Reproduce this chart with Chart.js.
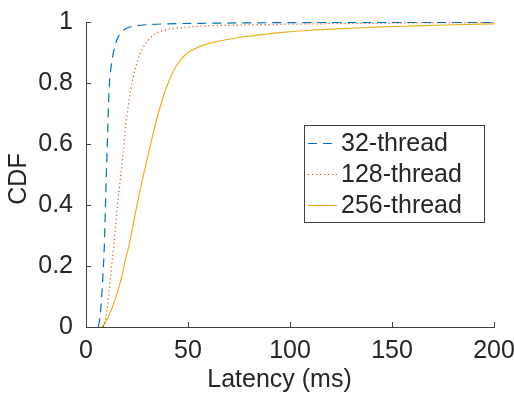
<!DOCTYPE html>
<html>
<head>
<meta charset="utf-8">
<script src="https://cdn.jsdelivr.net/npm/chart.js@4/dist/chart.umd.min.js"></script>
<style>
  html, body { margin: 0; padding: 0; background: #fff; }
  #wrap { width: 514px; height: 395px; position: relative; }
</style>
</head>
<body>
<div id="wrap"><canvas id="cdfChart"></canvas></div>
<script>
// values
const seriesNames = ['32-thread', '128-thread', '256-thread'];

const latency32 = [6.0, 6.5, 7.1, 7.7, 8.3, 9.0, 9.5, 10.1, 10.7, 11.3, 11.9, 12.6, 13.4, 14.5, 15.8, 17.5, 20.7, 25, 29, 40, 60, 100, 150, 200];
const cdf32 = [0, 0.015, 0.05, 0.1, 0.17, 0.268, 0.39, 0.525, 0.655, 0.776, 0.83, 0.868, 0.898, 0.93, 0.951, 0.968, 0.982, 0.988, 0.991, 0.994, 0.996, 0.998, 0.999, 0.999];

const latency128 = [8.5, 9.3, 10.2, 11.2, 12.4, 13.6, 14.6, 16.2, 18.0, 19.6, 21.9, 23.2, 24.5, 26.5, 28.5, 31.4, 34, 37.9, 42, 47.7, 55, 62.4, 75.5, 100, 130, 160, 200];
const cdf128 = [0, 0.015, 0.05, 0.11, 0.19, 0.268, 0.339, 0.448, 0.557, 0.667, 0.776, 0.82, 0.855, 0.896, 0.922, 0.947, 0.962, 0.972, 0.978, 0.982, 0.986, 0.988, 0.990, 0.993, 0.995, 0.997, 0.998];

const latency256 = [7.7, 9, 10.9, 12.5, 14.2, 15.8, 17.5, 19.3, 21.1, 23.2, 26.5, 30.2, 34.1, 36.2, 38.7, 41.2, 43.5, 46.1, 48.5, 51, 54.5, 58, 62.4, 68, 75.5, 85, 95, 110, 128, 145, 160, 180, 200];
const cdf256 = [0, 0.01, 0.033, 0.058, 0.088, 0.124, 0.164, 0.22, 0.268, 0.339, 0.448, 0.557, 0.667, 0.718, 0.772, 0.815, 0.847, 0.874, 0.891, 0.904, 0.916, 0.925, 0.933, 0.941, 0.95, 0.958, 0.965, 0.973, 0.979, 0.984, 0.987, 0.991, 0.994];

const xTicks = [0, 50, 100, 150, 200];
const yTicks = [0, 0.2, 0.4, 0.6, 0.8, 1];
const xTitle = 'Latency (ms)';
const yTitle = 'CDF';

const FONT = 'Liberation Sans, Arial, Helvetica, sans-serif';
const FSIZE = 25;
const TEXT = '#262626';
const AXIS = '#404040';

function toPoints(xs, ys) {
    return xs.map((x, i) => ({ x: x, y: ys[i] }));
}

// inward tick marks, MATLAB style
const innerTicks = {
    id: 'innerTicks',
    afterDraw(chart) {
        const ctx = chart.ctx;
        const x = chart.scales.x, y = chart.scales.y;
        const len = 5;
        ctx.save();
        ctx.strokeStyle = AXIS;
        ctx.lineWidth = 1;
        ctx.beginPath();
        xTicks.forEach(v => {
            const px = Math.round(x.getPixelForValue(v)) + 0.5;
            ctx.moveTo(px, y.bottom);
            ctx.lineTo(px, y.bottom - len);
        });
        yTicks.forEach(v => {
            const py = Math.round(y.getPixelForValue(v)) + 0.5;
            ctx.moveTo(x.left, py);
            ctx.lineTo(x.left + len, py);
        });
        ctx.stroke();
        ctx.restore();
    }
};

// axis titles, placed where the original figure has them
const axisTitles = {
    id: 'axisTitles',
    afterDraw(chart) {
        const ctx = chart.ctx;
        ctx.save();
        ctx.font = FSIZE + 'px ' + FONT;
        ctx.fillStyle = TEXT;
        ctx.textAlign = 'center';
        ctx.textBaseline = 'middle';
        ctx.fillText(xTitle, 279.5, 380);
        ctx.translate(19, 179);
        ctx.rotate(-Math.PI / 2);
        ctx.fillText(yTitle, 0, 0);
        ctx.restore();
    }
};

// legend box inside the plot
const boxLegend = {
    id: 'boxLegend',
    afterDraw(chart) {
        const ctx = chart.ctx;
        const bx = 304.5, by = 125.5, bw = 180, bh = 97;
        ctx.save();
        ctx.fillStyle = '#fff';
        ctx.fillRect(bx, by, bw, bh);
        ctx.strokeStyle = AXIS;
        ctx.lineWidth = 1;
        ctx.strokeRect(bx, by, bw, bh);
        ctx.font = FSIZE + 'px ' + FONT;
        ctx.textBaseline = 'middle';
        ctx.fillStyle = TEXT;
        chart.data.datasets.forEach((ds, i) => {
            const cy = 143.5 + i * 31;
            ctx.strokeStyle = ds.borderColor;
            ctx.lineWidth = ds.borderWidth;
            ctx.setLineDash(ds.borderDash || []);
            ctx.beginPath();
            ctx.moveTo(308, cy);
            ctx.lineTo(337, cy);
            ctx.stroke();
            ctx.setLineDash([]);
            ctx.fillText(ds.label, 341, cy + 1);
        });
        ctx.restore();
    }
};

const ctx = document.getElementById('cdfChart').getContext('2d');
const cdfChart = new Chart(ctx, {
    type: 'scatter',
    data: {
        datasets: [{
            label: seriesNames[0],
            data: toPoints(latency32, cdf32),
            borderColor: '#0072BD',
            borderWidth: 1.2,
            borderDash: [9, 6]
        }, {
            label: seriesNames[1],
            data: toPoints(latency128, cdf128),
            borderColor: '#D95319',
            borderWidth: 1.2,
            borderDash: [1.2, 2.8]
        }, {
            label: seriesNames[2],
            data: toPoints(latency256, cdf256),
            borderColor: '#EDB120',
            borderWidth: 1.2
        }]
    },
    options: {
        responsive: true,
        maintainAspectRatio: false,
        animation: false,
        showLine: true,
        elements: {
            point: { radius: 0, hoverRadius: 0 },
            line: { cubicInterpolationMode: 'monotone', fill: false }
        },
        layout: {
            padding: { left: 0, right: 20, top: 22, bottom: 0 }
        },
        plugins: {
            legend: { display: false },
            tooltip: { enabled: false }
        },
        scales: {
            x: {
                type: 'linear',
                min: 0,
                max: 200,
                afterBuildTicks: s => { s.ticks = xTicks.map(v => ({ value: v })); },
                afterFit: s => { s.height = 68; s.paddingLeft = 0; s.paddingRight = 0; },
                grid: { display: false, drawTicks: false },
                border: { display: true, color: AXIS, width: 1 },
                ticks: { color: TEXT, font: { family: FONT, size: FSIZE }, padding: 9, maxRotation: 0, callback: v => String(v) }
            },
            y: {
                type: 'linear',
                min: 0,
                max: 1,
                afterBuildTicks: s => { s.ticks = yTicks.map(v => ({ value: v })); },
                afterFit: s => { s.width = 86; s.paddingTop = 0; s.paddingBottom = 0; },
                grid: { display: false, drawTicks: false },
                border: { display: true, color: AXIS, width: 1 },
                ticks: { color: TEXT, font: { family: FONT, size: FSIZE }, padding: 13, callback: v => String(v) }
            }
        }
    },
    plugins: [innerTicks, axisTitles, boxLegend]
});
</script>
</body>
</html>
